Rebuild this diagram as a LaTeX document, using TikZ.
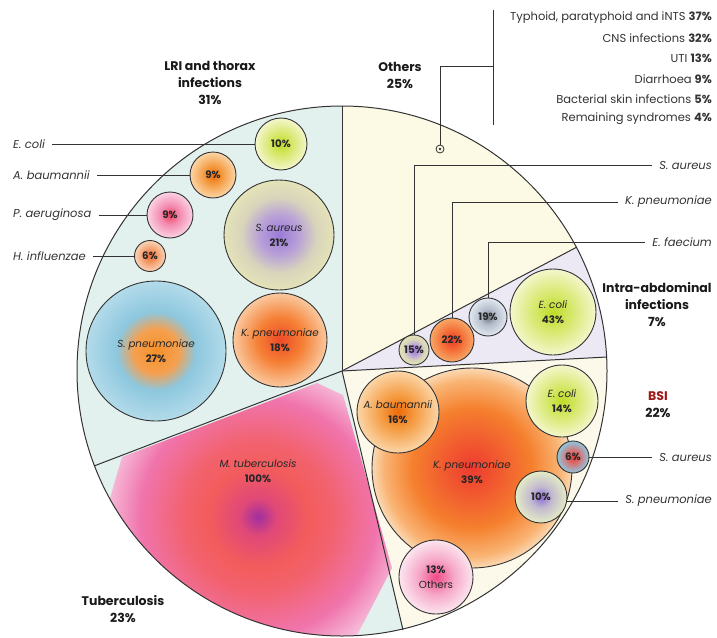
\documentclass[tikz,border=0pt]{standalone}
\usepackage{fontspec}
\setmainfont{Poppins}
\usetikzlibrary{positioning}

% colours of the sectors and lines
\definecolor{linec}{HTML}{333333}
\definecolor{txtc}{HTML}{333333}
\definecolor{lrifill}{HTML}{E2F1EE}
\definecolor{othfill}{HTML}{FCFAE4}
\definecolor{intfill}{HTML}{ECE9F5}
\definecolor{bsifill}{HTML}{FCF8EA}
\definecolor{bsired}{HTML}{A01818}

% bubble shadings (25bp = rim of the bubble)
\pgfdeclareradialshading{shEcoli}{\pgfpoint{0bp}{0bp}}{color(0bp)=(rgb,255:red,191;green,220;blue,40); color(10bp)=(rgb,255:red,213;green,231;blue,102); color(25bp)=(rgb,255:red,244;green,246;blue,204); color(50bp)=(rgb,255:red,244;green,246;blue,204)}
\pgfdeclareradialshading{shAbau}{\pgfpoint{0bp}{0bp}}{color(0bp)=(rgb,255:red,238;green,106;blue,8); color(10bp)=(rgb,255:red,245;green,154;blue,64); color(25bp)=(rgb,255:red,251;green,214;blue,168); color(50bp)=(rgb,255:red,251;green,214;blue,168)}
\pgfdeclareradialshading{shPaer}{\pgfpoint{0bp}{0bp}}{color(0bp)=(rgb,255:red,238;green,63;blue,94); color(10bp)=(rgb,255:red,244;green,137;blue,174); color(25bp)=(rgb,255:red,250;green,211;blue,228); color(50bp)=(rgb,255:red,250;green,211;blue,228)}
\pgfdeclareradialshading{shHinf}{\pgfpoint{0bp}{0bp}}{color(0bp)=(rgb,255:red,238;green,110;blue,48); color(12bp)=(rgb,255:red,244;green,160;blue,112); color(25bp)=(rgb,255:red,249;green,213;blue,184); color(50bp)=(rgb,255:red,249;green,213;blue,184)}
\pgfdeclareradialshading{shSaur}{\pgfpoint{0bp}{0bp}}{color(0bp)=(rgb,255:red,154;green,122;blue,216); color(9bp)=(rgb,255:red,184;green,160;blue,216); color(17bp)=(rgb,255:red,216;green,212;blue,188); color(25bp)=(rgb,255:red,228;green,227;blue,184); color(50bp)=(rgb,255:red,228;green,227;blue,184)}
\pgfdeclareradialshading{shSpn}{\pgfpoint{0bp}{0bp}}{color(0bp)=(rgb,255:red,245;green,144;blue,40); color(8bp)=(rgb,255:red,245;green,160;blue,80); color(14bp)=(rgb,255:red,141;green,199;blue,222); color(25bp)=(rgb,255:red,179;green,219;blue,234); color(50bp)=(rgb,255:red,179;green,219;blue,234)}
\pgfdeclareradialshading{shKpn}{\pgfpoint{0bp}{0bp}}{color(0bp)=(rgb,255:red,238;green,74;blue,40); color(12bp)=(rgb,255:red,245;green,128;blue,53); color(25bp)=(rgb,255:red,250;green,201;blue,160); color(50bp)=(rgb,255:red,250;green,201;blue,160)}
\pgfdeclareradialshading{shEfae}{\pgfpoint{0bp}{0bp}}{color(0bp)=(rgb,255:red,110;green,116;blue,130); color(10bp)=(rgb,255:red,180;green,188;blue,203); color(25bp)=(rgb,255:red,226;green,233;blue,240); color(50bp)=(rgb,255:red,226;green,233;blue,240)}
\pgfdeclareradialshading{shKbsi}{\pgfpoint{0bp}{0bp}}{color(0bp)=(rgb,255:red,238;green,58;blue,48); color(15bp)=(rgb,255:red,245;green,128;blue,46); color(22bp)=(rgb,255:red,249;green,180;blue,116); color(25bp)=(rgb,255:red,251;green,217;blue,181); color(50bp)=(rgb,255:red,251;green,217;blue,181)}
\pgfdeclareradialshading{shSaurSix}{\pgfpoint{0bp}{0bp}}{color(0bp)=(rgb,255:red,224;green,58;blue,58); color(10bp)=(rgb,255:red,215;green,112;blue,112); color(25bp)=(rgb,255:red,142;green,200;blue,224); color(50bp)=(rgb,255:red,142;green,200;blue,224)}
\pgfdeclareradialshading{shSpnTen}{\pgfpoint{0bp}{0bp}}{color(0bp)=(rgb,255:red,138;green,106;blue,216); color(10bp)=(rgb,255:red,194;green,184;blue,208); color(25bp)=(rgb,255:red,228;green,236;blue,196); color(50bp)=(rgb,255:red,228;green,236;blue,196)}
\pgfdeclareradialshading{shOth}{\pgfpoint{0bp}{0bp}}{color(0bp)=(rgb,255:red,240;green,74;blue,136); color(12bp)=(rgb,255:red,246;green,168;blue,200); color(25bp)=(rgb,255:red,252;green,230;blue,239); color(50bp)=(rgb,255:red,252;green,230;blue,239)}
\pgfdeclareradialshading{shKtwo}{\pgfpoint{0bp}{0bp}}{color(0bp)=(rgb,255:red,238;green,58;blue,40); color(12bp)=(rgb,255:red,244;green,112;blue,56); color(25bp)=(rgb,255:red,248;green,168;blue,104); color(50bp)=(rgb,255:red,248;green,168;blue,104)}
\pgfdeclareradialshading{shTB}{\pgfpoint{0bp}{0bp}}{color(0bp)=(rgb,255:red,160;green,47;blue,160); color(3bp)=(rgb,255:red,224;green,72;blue,120); color(8bp)=(rgb,255:red,243;green,92;blue,92); color(12bp)=(rgb,255:red,242;green,98;blue,110); color(19bp)=(rgb,255:red,240;green,116;blue,172); color(25bp)=(rgb,255:red,247;green,196;blue,222); color(50bp)=(rgb,255:red,247;green,196;blue,222)}

\newcommand\bubfont{\fontsize{10.3}{15}\selectfont}
\newcommand\lblfont{\fontsize{11.5}{13}\selectfont\itshape}
\newcommand\ttlfont{\fontsize{12.5}{17}\selectfont\bfseries}
\newcommand\lstfont{\fontsize{11.5}{13}\selectfont}

\begin{document}
\begin{tikzpicture}[x=1pt, y=-1pt,
  bub/.style={circle, draw=linec, line width=0.9pt, inner sep=0pt, align=center, font=\bubfont, text=black!85},
  lbl/.style={font=\lblfont, text=txtc, inner sep=1pt},
  lst/.style={font=\lstfont, text=txtc, inner sep=1pt, anchor=east},
  ttl/.style={font=\ttlfont, align=center, text=black!90},
  conn/.style={draw=linec, line width=0.8pt},
  sepline/.style={draw=linec, line width=1pt},
]
\useasboundingbox (0,0) rectangle (717,637);

% === Sector corners ===
\coordinate (ctr) at (342,371);
\coordinate (pTop) at (342,106);
\coordinate (pOthInt) at (577,247);
\coordinate (pIntBsi) at (607,357);
\coordinate (pBsiTb) at (403,630);
\coordinate (pTbLri) at (94,466);

% === Sector fills ===
\begin{scope}
  \clip (ctr) circle[radius=265pt];
  \fill[lrifill] (ctr) -- (-402,656) -- (-500,-200) -- (342,-200) -- cycle;
  \fill[othfill] (ctr) -- (342,-200) -- (1047,-200) -- (1047,-1) -- cycle;
  \fill[intfill] (ctr) -- (1047,-1) -- (1137,329) -- cycle;
  \fill[bsifill] (ctr) -- (1137,329) -- (1137,1200) -- (525,1148) -- cycle;
  \fill[lrifill] (ctr) -- (525,1148) -- (-500,1148) -- (-402,656) -- cycle;
  % tuberculosis cell
  \begin{scope}
    \clip (108,505) -- (122,457) -- (317,383) -- (343,395) -- (392,568) -- (352,645) -- (100,645) -- cycle;
    \shade[shading=shTB] (258,517) circle[radius=155pt];
  \end{scope}
\end{scope}

% === Sector lines ===
\draw[sepline] (ctr) -- (pTop);
\draw[sepline] (ctr) -- (pOthInt);
\draw[sepline] (ctr) -- (pIntBsi);
\draw[sepline] (ctr) -- (pBsiTb);
\draw[sepline] (ctr) -- (pTbLri);
\draw[sepline] (ctr) circle[radius=265pt];

% === LRI bubbles ===
\node[bub, minimum size=52pt, shading=shEcoli] (lEcoli) at (281,144) {\textbf{10\%}};
\node[bub, minimum size=46pt, shading=shAbau] (lAbau) at (213,175) {\textbf{9\%}};
\node[bub, minimum size=46pt, shading=shPaer] (lPaer) at (170,215) {\textbf{9\%}};
\node[bub, minimum size=31pt, shading=shHinf] (lHinf) at (150,256) {\textbf{6\%}};
\node[bub, minimum size=110pt, shading=shSaur] (lSaur) at (279,235) {\textit{S. aureus}\\\textbf{21\%}};
\node[bub, minimum size=140pt, shading=shSpn] (lSpn) at (156,351) {\textit{S. pneumoniae}\\\textbf{27\%}};
\node[bub, minimum size=94pt, shading=shKpn] (lKpn) at (280,340) {\textit{K. pneumoniae}\\\textbf{18\%}};

\node[lbl, anchor=west] (tEcoli) at (12,144) {E. coli};
\node[lbl, anchor=west] (tAbau) at (12,175) {A. baumannii};
\node[lbl, anchor=west] (tPaer) at (12,215) {P. aeruginosa};
\node[lbl, anchor=west] (tHinf) at (12,256) {H. influenzae};
\draw[conn] (tEcoli.east) ++(6,0) -- (lEcoli.west);
\draw[conn] (tAbau.east) ++(6,0) -- (lAbau.west);
\draw[conn] (tPaer.east) ++(6,0) -- (lPaer.west);
\draw[conn] (tHinf.east) ++(6,0) -- (lHinf.west);

% === Tuberculosis ===
\node[bub, draw=none] (tbLabel) at (258,471) {\textit{M. tuberculosis}\\\textbf{100\%}};

% === Intra-abdominal bubbles ===
\node[bub, minimum size=30pt, shading=shSaur] (iSaur) at (414,350) {\textbf{15\%}};
\node[bub, minimum size=44pt, shading=shKtwo] (iKpn) at (452,340) {\textbf{22\%}};
\node[bub, minimum size=38pt, shading=shEfae] (iEfae) at (488,317) {\textbf{19\%}};
\node[bub, minimum size=86pt, shading=shEcoli] (iEcoli) at (553,312) {\textit{E. coli}\\\textbf{43\%}};

\node[lbl, anchor=east] (tiSaur) at (713,165) {S. aureus};
\node[lbl, anchor=east] (tiKpn) at (713,202) {K. pneumoniae};
\node[lbl, anchor=east] (tiEfae) at (713,242) {E. faecium};
\draw[conn] (iSaur.north) |- ([xshift=-6pt]tiSaur.west);
\draw[conn] (iKpn.north) |- ([xshift=-6pt]tiKpn.west);
\draw[conn] (iEfae.north) |- ([xshift=-6pt]tiEfae.west);

% === BSI bubbles ===
\node[bub, minimum size=200pt, shading=shKbsi] (bKpn) at (472,468) {};
\node[bub, draw=none] (bKpnTxt) at (472,472) {\textit{K. pneumoniae}\\\textbf{39\%}};
\node[bub, minimum size=82pt, shading=shAbau] (bAbau) at (398,412) {\textit{A. baumannii}\\\textbf{16\%}};
\node[bub, minimum size=72pt, shading=shEcoli] (bEcoli) at (562,401) {\textit{E. coli}\\\textbf{14\%}};
\node[bub, minimum size=32pt, shading=shSaurSix] (bSaur) at (573,457) {\textbf{6\%}};
\node[bub, minimum size=52pt, shading=shSpnTen] (bSpn) at (541,497) {\textbf{10\%}};
\node[bub, minimum size=74pt, shading=shOth] (bOth) at (436,577) {\textbf{13\%}\\Others};

\node[lbl, anchor=east] (tbSaur) at (713,457) {S. aureus};
\node[lbl, anchor=east] (tbSpn) at (713,501) {S. pneumoniae};
\draw[conn] (bSaur.east) -- ([xshift=-6pt]tbSaur.west);
\draw[conn] (bSpn.east |- tbSpn) -- ([xshift=-6pt]tbSpn.west);

% === Others breakdown ===
\node[circle, draw=linec, line width=0.8pt, minimum size=8pt, inner sep=0pt] (oMark) at (440,149) {};
\fill[linec] (oMark) circle[radius=1.3pt];
\coordinate (brTop) at (493,10);
\coordinate (brBot) at (493,125);
\coordinate (brMid) at (493,66);
\draw[conn] (brTop) -- (brBot);
\draw[conn] (oMark.north) |- (brMid);

\node[lst] (o1) at (713,18) {Typhoid, paratyphoid and iNTS \textbf{37\%}};
\node[lst] (o2) at (713,38) {CNS infections \textbf{32\%}};
\node[lst] (o3) at (713,58) {UTI \textbf{13\%}};
\node[lst] (o4) at (713,79) {Diarrhoea \textbf{9\%}};
\node[lst] (o5) at (713,99) {Bacterial skin infections \textbf{5\%}};
\node[lst] (o6) at (713,119) {Remaining syndromes \textbf{4\%}};

% === Sector titles ===
\node[ttl] (hLri) at (210,83) {LRI and thorax\\infections\\31\%};
\node[ttl] (hOth) at (400,75) {Others\\25\%};
\node[ttl] (hInt) at (657,305) {Intra-abdominal\\infections\\7\%};
\node[ttl] (hBsi) at (658,405) {\textcolor{bsired}{BSI}\\22\%};
\node[ttl] (hTb) at (123,609) {Tuberculosis\\23\%};

\end{tikzpicture}
\end{document}
